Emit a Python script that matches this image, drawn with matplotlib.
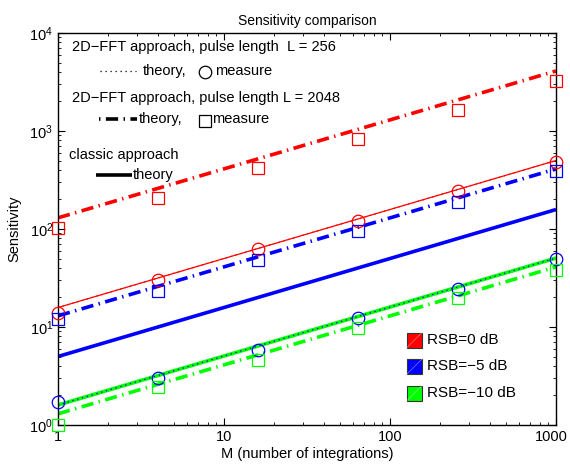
import numpy as np
import matplotlib.pyplot as plt
import matplotlib.transforms as mtransforms
from matplotlib.patches import Rectangle
from matplotlib.lines import Line2D

plt.rcParams['font.family'] = ['Liberation Sans', 'DejaVu Sans']
plt.rcParams['mathtext.fontset'] = 'custom'
plt.rcParams['mathtext.rm'] = 'Liberation Sans'
plt.rcParams['mathtext.it'] = 'Liberation Sans:italic'

# theory lines, read at the two ends M=1 and M=1000
M_theory = [1, 1000]
classic_0 = [15.8, 500]
classic_5 = [5.0, 158]
classic_10 = [1.6, 50.5]
l256_0 = [15.8, 500]
l256_5 = [1.6, 50.5]
l2048_0 = [130, 4100]
l2048_5 = [13.0, 410]
l2048_10 = [1.3, 41]

# measured points
M_meas = [1, 4, 16, 64, 256, 1000]
meas256_0 = [14.0, 30.2, 62, 122, 244, 486]
meas256_5 = [1.73, 3.04, 5.8, 12.3, 24.4, 49]
meas2048_0 = [103, 205, 417, 822, 1637, 3260]
meas2048_5 = [12.0, 23.5, 48.3, 96, 190, 391]
meas2048_10 = [1.0, 2.46, 4.6, 9.8, 19.6, 38.5]

RED, BLUE, GREEN = '#ff0000', '#0000ff', '#00ff00'
dashdot = (0, (3.4, 1.5, 0.4, 1.5))

fig = plt.figure(figsize=(5.7, 4.66), dpi=100)
ax = fig.add_axes([58/570, 1-425/466, 498/570, 392/466])

# classic approach
ax.plot(M_theory, classic_0, color=RED, lw=0.9, solid_capstyle='butt')
ax.plot(M_theory, classic_5, color=BLUE, lw=2.6, solid_capstyle='butt')
ax.plot(M_theory, classic_10, color=GREEN, lw=2.6, solid_capstyle='butt')
# L = 256
ax.plot(M_theory, l256_0, color=RED, lw=0.9, ls=(0, (1, 3)))
ax.plot(M_theory, l256_5, color=BLUE, lw=0.9, ls=(0, (1, 3)))
# L = 2048
ax.plot(M_theory, l2048_0, color=RED, lw=2.6, ls=dashdot)
ax.plot(M_theory, l2048_5, color=BLUE, lw=2.6, ls=dashdot)
ax.plot(M_theory, l2048_10, color=GREEN, lw=2.6, ls=dashdot)

mk = dict(ls='none', mfc='none', mew=0.9, clip_on=False, zorder=5)
ax.plot(M_meas, meas256_0, marker='o', ms=9, mec=RED, **mk)
ax.plot(M_meas, meas256_5, marker='o', ms=9, mec=BLUE, **mk)
ax.plot(M_meas, meas2048_0, marker='s', ms=8, mec=RED, **mk)
ax.plot(M_meas, meas2048_5, marker='s', ms=8, mec=BLUE, **mk)
ax.plot(M_meas, meas2048_10, marker='s', ms=8, mec=GREEN, **mk)

ax.set_xscale('log')
ax.set_yscale('log')
ax.set_xlim(1, 1000)
ax.set_ylim(1, 1e4)
ax.set_xticks([1, 10, 100, 1000])
ax.set_xticklabels(['1', '10', '100', '1000'])
ax.tick_params(which='both', direction='in', top=True, right=True, labelsize=10.5)
ax.tick_params(which='major', length=5, width=0.8)
ax.tick_params(which='minor', length=2.5, width=0.6)
for s in ax.spines.values():
    s.set_linewidth(1.0)

# nudge the last x label left so it stays inside the figure
last = ax.get_xticklabels()[-1]
last.set_transform(last.get_transform() + mtransforms.ScaledTranslation(-5/100, 0, fig.dpi_scale_trans))

ax.set_title('Sensitivity comparison', fontsize=10, pad=6)
ax.set_xlabel('M (number of integrations)', fontsize=10.5, labelpad=2)
ax.set_ylabel('Sensitivity', fontsize=10.5, labelpad=6)

# annotation legend (top left), in pixel -> axes coords
def ax_xy(px, py):
    return (px - 58) / 498, (425 - py) / 392

tr = ax.transAxes
fs = 10.5
x, y = ax_xy(72, 47)
ax.text(x, y, '2D\u2212FFT approach, pulse length  L = 256', transform=tr, fontsize=fs, va='center')
x0, y = ax_xy(100, 71)
x1, _ = ax_xy(136, 71)
ax.add_line(Line2D([x0, x1], [y, y], transform=tr, color='k', lw=0.9, ls=(0, (1, 3))))
ax.text(ax_xy(143, 71)[0], y, 'theory,', transform=tr, fontsize=fs, va='center')
ax.plot(*ax_xy(205, 72), transform=tr, marker='o', ms=9, mfc='none', mec='k', mew=0.9)
ax.text(ax_xy(215, 71)[0], y, 'measure', transform=tr, fontsize=fs, va='center')

x, y = ax_xy(72, 98)
ax.text(x, y, '2D\u2212FFT approach, pulse length L = 2048', transform=tr, fontsize=fs, va='center')
x0, y = ax_xy(99, 119)
x1, _ = ax_xy(137, 119)
ax.add_line(Line2D([x0, x1], [y, y], transform=tr, color='k', lw=2.6,
                   ls=(0, (0.4, 1.5, 3.4, 1.5))))
ax.text(ax_xy(139, 119)[0], y, 'theory,', transform=tr, fontsize=fs, va='center')
ax.plot(*ax_xy(205, 121), transform=tr, marker='s', ms=8, mfc='none', mec='k', mew=0.9)
ax.text(ax_xy(212, 119)[0], y, 'measure', transform=tr, fontsize=fs, va='center')

x, y = ax_xy(69, 155)
ax.text(x, y, 'classic approach', transform=tr, fontsize=fs, va='center')
x0, y = ax_xy(96, 175)
x1, _ = ax_xy(132, 175)
ax.add_line(Line2D([x0, x1], [y, y], transform=tr, color='k', lw=2.6, solid_capstyle='butt'))
ax.text(ax_xy(133, 173)[0], y, 'theory', transform=tr, fontsize=fs, va='center')

# colour legend (bottom right)
rsb_labels = ['RSB=0 dB', 'RSB=\u22125 dB', 'RSB=\u221210 dB']
rsb_colors = [RED, BLUE, GREEN]
for i, (lab, c) in enumerate(zip(rsb_labels, rsb_colors)):
    py = 340 + i * 26.5
    xa, ya = ax_xy(407, py + 7.5)
    xb, yb = ax_xy(422, py - 7.5)
    ax.add_patch(Rectangle((xa, ya), xb - xa, yb - ya, transform=tr,
                           facecolor=c, edgecolor='#333333', lw=0.8, zorder=6))
    ax.add_line(Line2D([xa, xb], [ya, yb], transform=tr, color='white', lw=0.4, alpha=0.6, zorder=7))
    ax.text(ax_xy(427, py)[0], ax_xy(427, py)[1], lab, transform=tr, fontsize=11, va='center')

fig.savefig('out.png', dpi=100)
